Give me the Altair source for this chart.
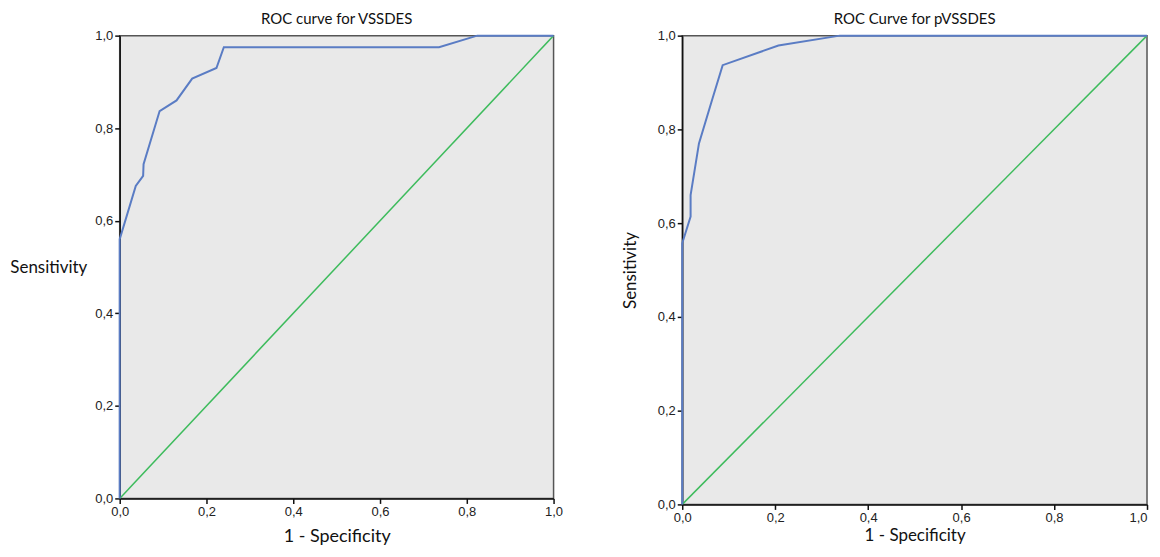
import altair as alt
import pandas as pd

# Left panel: ROC curve for VSSDES
left_fpr = [0.0, 0.0, 0.037, 0.054, 0.055, 0.092, 0.131, 0.167, 0.223, 0.240, 0.736, 0.824, 1.0]
left_tpr = [0.0, 0.560, 0.675, 0.697, 0.722, 0.837, 0.860, 0.907, 0.930, 0.975, 0.975, 1.0, 1.0]

# Right panel: ROC Curve for pVSSDES
right_fpr = [0.0, 0.0, 0.018, 0.018, 0.036, 0.064, 0.087, 0.207, 0.339, 1.0]
right_tpr = [0.0, 0.557, 0.614, 0.660, 0.770, 0.862, 0.937, 0.979, 1.0, 1.0]

# Reference line
diag_x = [0.0, 1.0]
diag_y = [0.0, 1.0]

ticks = [0.0, 0.2, 0.4, 0.6, 0.8, 1.0]
label_expr = "replace(format(datum.value, '.1f'), '.', ',')"

BLUE = "#5a7cc4"
GREEN = "#3dbb5c"


def panel(fpr, tpr, title, w, h, is_left):
    curve = pd.DataFrame({"x": fpr, "y": tpr, "order": list(range(len(fpr)))})
    diag = pd.DataFrame({"x": diag_x, "y": diag_y})
    if is_left:
        xaxis = alt.Axis(values=ticks, labelExpr=label_expr, title="1 - Specificity",
                         grid=False, tickSize=5, labelPadding=2, titlePadding=9,
                         titleFontSize=18, labelFlush=False)
        yaxis = alt.Axis(values=ticks, labelExpr=label_expr, title="Sensitivity",
                         grid=False, tickSize=5, titleAngle=0, titleAlign="right",
                         titleBaseline="middle", titleX=-33, titleY=h / 2,
                         titleFontSize=17, labelFlush=False)
    else:
        xaxis = alt.Axis(values=ticks, labelExpr=label_expr, title="1 - Specificity",
                         grid=False, tickSize=5, labelPadding=2, titlePadding=3,
                         titleFontSize=17, labelFlush=False,
                         labelAlign={"condition": {"test": "datum.value >= 1", "value": "right"},
                                     "value": "center"})
        yaxis = alt.Axis(values=ticks, labelExpr=label_expr, title="Sensitivity",
                         grid=False, tickSize=5, titlePadding=18, titleFontSize=17,
                         labelFlush=False)
    xs = alt.Scale(domain=[0, 1], nice=False)
    ys = alt.Scale(domain=[0, 1], nice=False)
    d = alt.Chart(diag).mark_line(color=GREEN, strokeWidth=1.5, clip=True).encode(
        x=alt.X("x:Q", scale=xs, axis=xaxis),
        y=alt.Y("y:Q", scale=ys, axis=yaxis),
    )
    c = alt.Chart(curve).mark_line(color=BLUE, strokeWidth=2).encode(
        x=alt.X("x:Q", scale=xs, axis=xaxis),
        y=alt.Y("y:Q", scale=ys, axis=yaxis),
        order="order:Q",
    )
    return alt.layer(d, c).properties(
        width=w, height=h,
        title=alt.TitleParams(title, anchor="middle", fontSize=15, font="Lato",
                              fontWeight="normal", offset=3, color="#111"),
    )


left = panel(left_fpr, left_tpr, "ROC curve for VSSDES", 435, 464, True)
right = panel(right_fpr, right_tpr, "ROC Curve for pVSSDES", 466, 470, False)

chart = alt.hconcat(left, right, spacing=57).properties(
    padding={"left": 0, "top": 2, "right": 0, "bottom": 0},
    background="white",
).configure_view(
    fill="#e9e9e9", stroke="#555555", strokeWidth=1.5,
).configure_axis(
    labelFont="Liberation Sans", labelFontSize=13, labelColor="#222222",
    titleFont="Lato", titleFontWeight="normal", titleColor="#111111",
    domainColor="#111111", domainWidth=1.5, tickColor="#111111", tickWidth=1.5,
)

chart.save("out.html", embed_options={"renderer": "svg", "actions": False})
